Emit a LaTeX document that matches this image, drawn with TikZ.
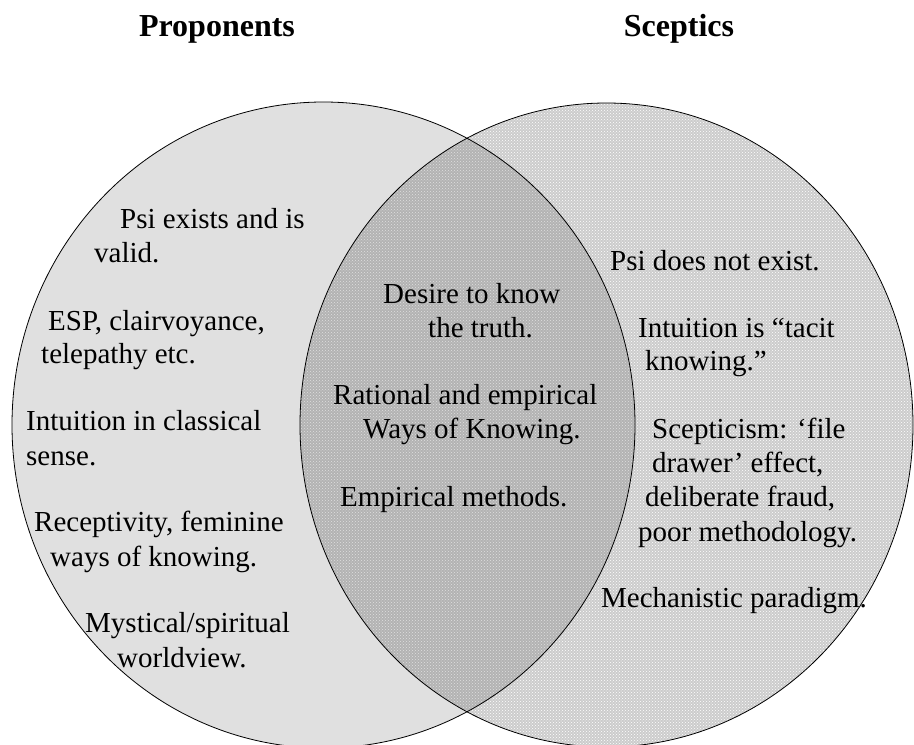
\documentclass[tikz,border=0pt]{standalone}
\usepackage{fontspec}
\setmainfont{Liberation Serif}
\usetikzlibrary{patterns}
\begin{document}
\begin{tikzpicture}[x=1pt,y=-1pt,
  txt/.style={anchor=base west,inner sep=0,font=\fontsize{29}{34}\selectfont},
  head/.style={anchor=base,inner sep=0,font=\fontsize{32}{38}\selectfont\bfseries}]
\useasboundingbox (0,0) rectangle (914,745);
\coordinate (pro) at (323.5,425);\coordinate (sce) at (606.5,425);
% the two sets
\fill[black!12] (pro) ellipse [x radius=311.5,y radius=323];
\fill[black!20] (sce) ellipse [x radius=306.5,y radius=322];
\fill[pattern=crosshatch dots,pattern color=white] (sce) ellipse [x radius=306.5,y radius=322];
\begin{scope}\clip (pro) ellipse [x radius=311.5,y radius=323];
\fill[black,opacity=0.12] (sce) ellipse [x radius=306.5,y radius=322];\end{scope}
\draw[line width=0.8pt] (pro) ellipse [x radius=311.5,y radius=323];
\draw[line width=0.8pt] (sce) ellipse [x radius=306.5,y radius=322];
\node[head] (proponents) at (217,36) {Proponents};
\node[head] (sceptics) at (679,36) {Sceptics};
% left, middle and right texts
\foreach \x/\y/\l [count=\n] in {120/228/{Psi exists and is},94/262/{valid.},48/330/{ESP, clairvoyance,},41/363/{telepathy etc.},
  26/430/{Intuition in classical},26/465/{sense.},34/531/{Receptivity, feminine},50/566/{ways of knowing.},
  85/632/{Mystical/spiritual},117/667/{worldview.}}\node[txt] (p\n) at (\x,\y) {\l};
\foreach \x/\y/\l [count=\n] in {383/303/{Desire to know},428/337/{the truth.},333/404/{Rational and empirical},
  363/438/{Ways of Knowing.},340/506/{Empirical methods.}}\node[txt] (m\n) at (\x,\y) {\l};
\foreach \x/\y/\l [count=\n] in {610/270/{Psi does not exist.},638/337/{Intuition is “tacit},645/370/{knowing.”},
  652/438/{Scepticism: ‘file},652/472/{drawer’ effect,},645/506/{deliberate fraud,},638/541/{poor methodology.},
  601/607/{Mechanistic paradigm.}}\node[txt] (s\n) at (\x,\y) {\l};
\end{tikzpicture}
\end{document}
